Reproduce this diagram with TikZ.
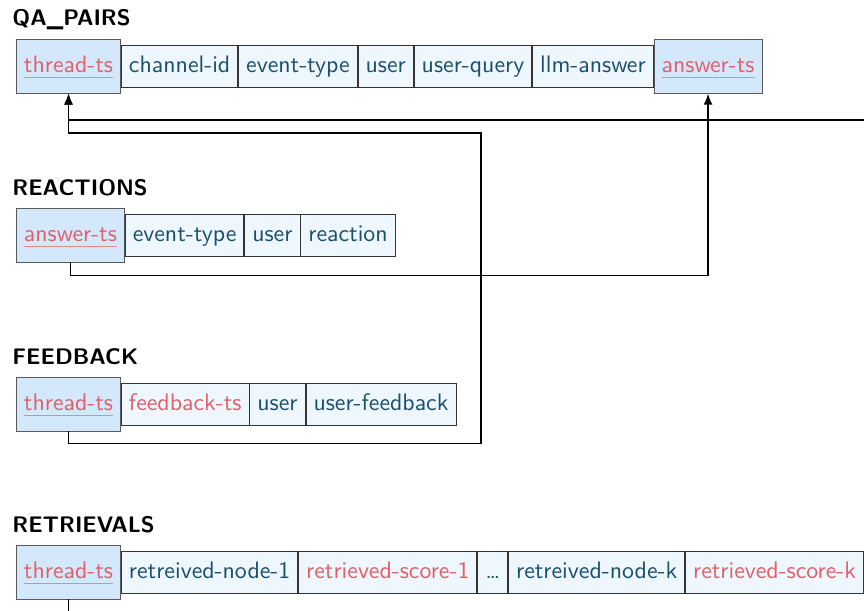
\documentclass[tikz,border=0pt]{standalone}
\usetikzlibrary{positioning,arrows.meta}

\definecolor{keyfill}{HTML}{D3E8FB}
\definecolor{cellfill}{HTML}{EEF6FE}
\definecolor{fieldblue}{HTML}{1A4F6E}
\definecolor{fieldred}{HTML}{E0606A}

\newcommand\keyline[1]{\setbox0\hbox{#1}\rlap{\color{fieldred!75}\rule[-2.6pt]{\wd0}{0.5pt}}\box0}

\tikzset{
  table/.style={font=\sffamily\bfseries, anchor=base west, inner sep=0pt},
  cell/.style={draw=black!80, fill=cellfill, text=fieldblue, font=\sffamily\fontsize{10.6}{12}\selectfont,
    minimum height=0.656cm, text height=7.3pt, text depth=1.6pt, right=0pt of #1},
  keycell/.style={draw=black!65, fill=keyfill, text=fieldred, font=\sffamily\fontsize{10.6}{12}\selectfont,
    minimum height=0.844cm, text height=7.3pt, text depth=1.6pt, anchor=west},
  redtext/.style={text=fieldred},
  link/.style={thick, -{Latex[length=5pt,width=4pt]}}
}

\begin{document}
\begin{tikzpicture}[x=0.015625cm, y=-0.015625cm]
  \useasboundingbox (0,0) rectangle (864,611);
  \clip (0,0) rectangle (864,611);

  % qa pairs
  \node[table] (qatitle) at (12,26) {QA\_PAIRS};
  \node[keycell] (qathread) at (16,66) {\keyline{thread-ts}};
  \node[cell=qathread] (qachannel) {channel-id};
  \node[cell=qachannel] (qaevent) {event-type};
  \node[cell=qaevent] (qauser) {user};
  \node[cell=qauser] (qaquery) {user-query};
  \node[cell=qaquery] (qallm) {llm-answer};
  \node[keycell, right=0pt of qallm] (qaanswer) {\keyline{answer-ts}};

  % reactions
  \node[table] (rxtitle) at (12,196) {REACTIONS};
  \node[keycell] (rxanswer) at (16,235) {\keyline{answer-ts}};
  \node[cell=rxanswer] (rxevent) {event-type};
  \node[cell=rxevent] (rxuser) {user};
  \node[cell=rxuser] (rxreaction) {reaction};

  % feedback
  \node[table] (fbtitle) at (12,365) {FEEDBACK};
  \node[keycell] (fbthread) at (16,404) {\keyline{thread-ts}};
  \node[cell=fbthread, redtext] (fbts) {feedback-ts};
  \node[cell=fbts] (fbuser) {user};
  \node[cell=fbuser] (fbtext) {user-feedback};

  % retrievals
  \node[table] (rttitle) at (12,533) {RETRIEVALS};
  \node[keycell] (rtthread) at (16,572) {\keyline{thread-ts}};
  \node[cell=rtthread] (rtnode1) {retreived-node-1};
  \node[cell=rtnode1, redtext] (rtscore1) {retrieved-score-1};
  \node[cell=rtscore1] (rtdots) {\ldots};
  \node[cell=rtdots] (rtnodek) {retreived-node-k};
  \node[cell=rtnodek, redtext] (rtscorek) {retrieved-score-k};

  % links
  \coordinate (rtturn) at (900,120);
  \coordinate (fbturn) at (481,133);
  \draw[link] (rtthread.south) -- ++(0,40) -| (rtturn) -| (qathread.south);
  \draw[link] (fbthread.south) -- ++(0,12) -| (fbturn) -| (qathread.south);
  \draw[link] (rxanswer.south) -- ++(0,13) -| (qaanswer.south);
\end{tikzpicture}
\end{document}
